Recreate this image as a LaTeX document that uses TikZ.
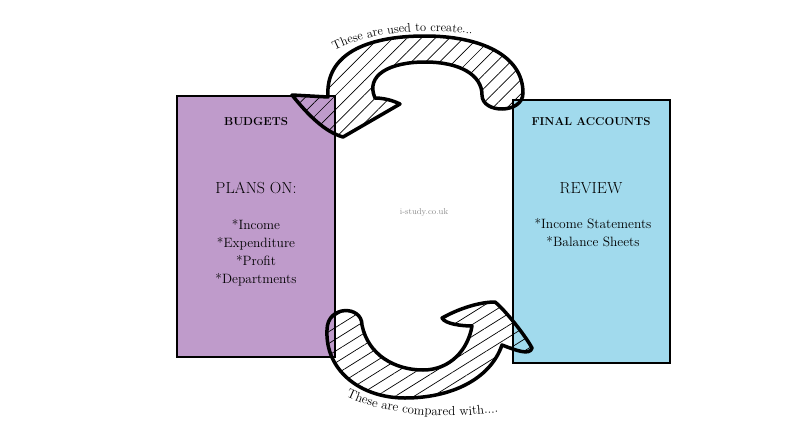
\documentclass[tikz,border=0pt]{standalone}
\usepackage{tikz}
\usetikzlibrary{patterns.meta, decorations.text}

\definecolor{budgetpurple}{RGB}{191,155,203}
\definecolor{accountblue}{RGB}{161,218,237}

\tikzset{
  box/.style={draw=black, line width=2.5pt, inner sep=0pt},
  heading/.style={font=\fontsize{11.5}{14}\selectfont\bfseries},
  subhead/.style={font=\fontsize{16}{19}\selectfont},
  items/.style={align=center, font=\fontsize{13.5}{18}\selectfont},
  bigarrow/.style={draw=black, line width=3.5pt, line join=round, line cap=round}
}

\begin{document}
\begin{tikzpicture}[x=1pt, y=-1pt]

\useasboundingbox[fill=white] (0,0) rectangle (800,431);

% Boxes
\node[box, fill=budgetpurple, minimum width=158pt, minimum height=261pt] (budgets) at (256,226.5) {};
\node[box, fill=accountblue, minimum width=157pt, minimum height=263pt] (accounts) at (591.5,231.5) {};

% Texts in the boxes
\node[heading] (budgetstitle) at (256,122) {BUDGETS};
\node[subhead] (planson) at (256,188) {PLANS ON:};
\node[items] (budgetitems) at (256,253) {*Income\\*Expenditure\\*Profit\\*Departments};

\node[heading] (accountstitle) at (591,122) {FINAL ACCOUNTS};
\node[subhead] (review) at (591,188) {REVIEW};
\node[items] (accountitems) at (593,233) {*Income Statements\\*Balance Sheets};

\node[text=black!45, font=\fontsize{8.5}{10}\selectfont] (site) at (424,212) {i-study.co.uk};

% Top arrow: final accounts -> budgets
\path[bigarrow, pattern={Lines[angle=45, distance=10pt, line width=0.7pt]}]
  (482,95) .. controls (482,114) and (523,114) .. (523,93)
  .. controls (523,55) and (480,36) .. (425,36)
  .. controls (365,36) and (325,55) .. (328,97)
  -- (292,95) .. controls (308,115) and (325,132) .. (343,137)
  -- (400,104) .. controls (390,99) and (380,98) .. (375,98)
  .. controls (365,75) and (390,62) .. (425,62)
  .. controls (460,62) and (482,75) .. (482,95) -- cycle;

% Bottom arrow: budgets -> final accounts
\path[bigarrow, pattern={Lines[angle=32, distance=10pt, line width=0.7pt]}]
  (327,330) .. controls (327,305) and (362,305) .. (362,325)
  .. controls (368,355) and (395,370) .. (423,370)
  .. controls (450,370) and (468,350) .. (472,326)
  .. controls (462,326) and (445,324) .. (442,318)
  .. controls (460,308) and (480,302) .. (495,302)
  .. controls (505,310) and (525,335) .. (532,348)
  .. controls (530,356) and (515,350) .. (502,345)
  .. controls (490,380) and (450,398) .. (405,398)
  .. controls (360,398) and (325,370) .. (327,330) -- cycle;

% Labels along the arrows
\path[decorate, decoration={text along path, text align=center,
  text={|\fontsize{12.5}{14}\selectfont|These are used to create...}}]
  (324,56) .. controls (360,33) and (420,25) .. (484,36);
\path[decorate, decoration={text along path, text align=center,
  text={|\fontsize{13}{15}\selectfont|These are compared with....}}]
  (334,390) .. controls (370,413) and (440,423) .. (512,410);

\end{tikzpicture}
\end{document}
